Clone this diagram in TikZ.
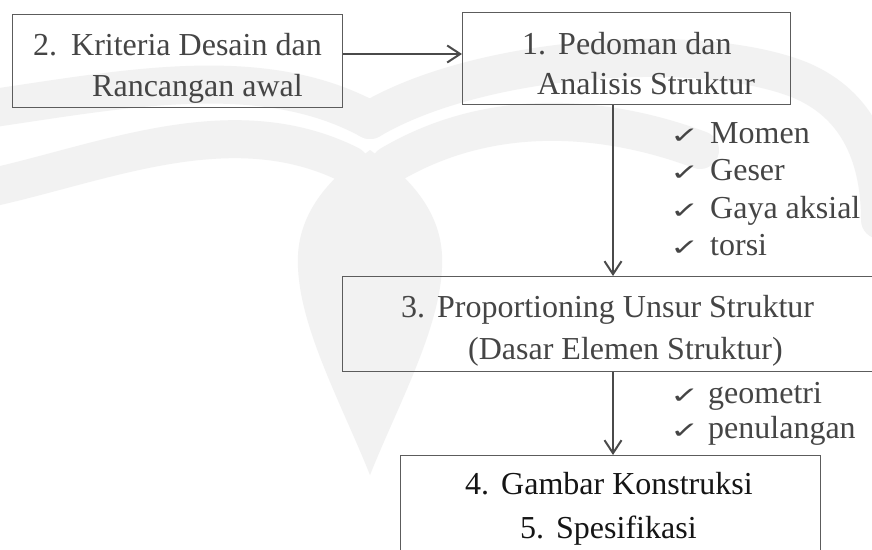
\documentclass[tikz,border=0pt]{standalone}
\usepackage{fontspec}
\setmainfont{Liberation Serif}
\newfontfamily\symfont{DejaVu Sans}
\usetikzlibrary{arrows.meta}
\definecolor{txt}{HTML}{454545}
\definecolor{txtdark}{HTML}{151515}
\definecolor{ln}{HTML}{5c5c5c}
\definecolor{arrc}{HTML}{4a4a4a}
\definecolor{wm}{HTML}{F2F2F2}
\tikzset{
  box/.style={draw=ln, line width=1.3pt, inner sep=0pt, anchor=north west},
  tl/.style={anchor=base west, inner sep=0pt, text=txt, font=\fontsize{32}{40}\selectfont},
  tld/.style={tl, text=txtdark},
  chk/.style={anchor=base west, inner sep=0pt, text=txt, font=\symfont\fontsize{35}{35}\selectfont},
  arr/.style={draw=arrc, line width=2pt, -{Straight Barb[length=13pt,width=17pt,line width=2pt]}},
  wmband/.style={draw=wm, line width=38pt, line cap=round}
}
\newcommand{\ck}{\scalebox{1}[0.66]{✓}}
\begin{document}
\begin{tikzpicture}[x=1pt,y=-1pt]
\clip (0,0) rectangle (872,549);
\fill[white] (0,0) rectangle (872,549);
% faint watermark
\fill[wm] (370,475) .. controls (340,400) and (295,320) .. (298,255)
  .. controls (300,215) and (325,185) .. (350,165) -- (370,150) -- (390,165)
  .. controls (415,185) and (440,215) .. (442,255)
  .. controls (445,320) and (400,400) .. (370,475) -- cycle;
\draw[wmband] (-20,190) .. controls (100,165) and (230,105) .. (350,165);
\draw[wmband] (-20,110) .. controls (120,90) and (260,60) .. (370,120);
\draw[wmband] (390,165) .. controls (500,100) and (620,120) .. (700,150);
\draw[wmband] (370,120) .. controls (480,55) and (700,40) .. (800,80) .. controls (860,105) and (880,160) .. (880,220);
% boxes
\node[box, minimum width=330pt, minimum height=93pt] (b2) at (12,14) {};
\node[box, minimum width=328pt, minimum height=92pt] (b1) at (462,12) {};
\node[box, minimum width=560pt, minimum height=95pt] (b3) at (342,276) {};
\node[box, minimum width=420pt, minimum height=120pt] (b4) at (400,455) {};
% box 2 text
\begin{scope}
\clip (b2.south west) rectangle (b2.north east);
\node[tl] (t2a) at (33,55) {2.\hspace{14pt}Kriteria Desain dan};
\node[tl] (t2b) at (92,96) {Rancangan awal};
\end{scope}
% box 1 text
\begin{scope}
\clip (b1.south west) rectangle (b1.north east);
\node[tl] (t1a) at (522,54) {1.\hspace{12pt}Pedoman dan};
\node[tl] (t1b) at (537,94) {Analisis Struktur};
\end{scope}
% box 3 text
\begin{scope}
\clip (b3.south west) rectangle (b3.north east);
\node[tl] (t3a) at (401,317) {3.\hspace{12pt}Proportioning Unsur Struktur};
\node[tl] (t3b) at (468,359) {(Dasar Elemen Struktur)};
\end{scope}
% box 4 text
\begin{scope}
\clip (b4.south west) rectangle (b4.north east);
\node[tld] (t4a) at (465,494) {4.\hspace{12pt}Gambar Konstruksi};
\node[tld] (t4b) at (520,538) {5.\hspace{12pt}Spesifikasi};
\end{scope}
% checklists
\node[chk] (c1) at (670,143) {\ck};
\node[tl] (l1) at (710,143) {Momen};
\node[chk] (c2) at (670,180) {\ck};
\node[tl] (l2) at (710,180) {Geser};
\node[chk] (c3) at (670,218) {\ck};
\node[tl] (l3) at (710,218) {Gaya aksial};
\node[chk] (c4) at (670,255) {\ck};
\node[tl] (l4) at (710,255) {torsi};
\node[chk] (c5) at (670,403) {\ck};
\node[tl] (l5) at (708,403) {geometri};
\node[chk] (c6) at (670,438) {\ck};
\node[tl] (l6) at (708,438) {penulangan};
% connectors
\draw[arr] (b2.east |- 0,54) -- (b1.west |- 0,54);
\draw[arr] (b1.south -| 613,0) -- (b3.north -| 613,0);
\draw[arr] (b3.south -| 613,0) -- (b4.north -| 613,0);
\end{tikzpicture}
\end{document}
